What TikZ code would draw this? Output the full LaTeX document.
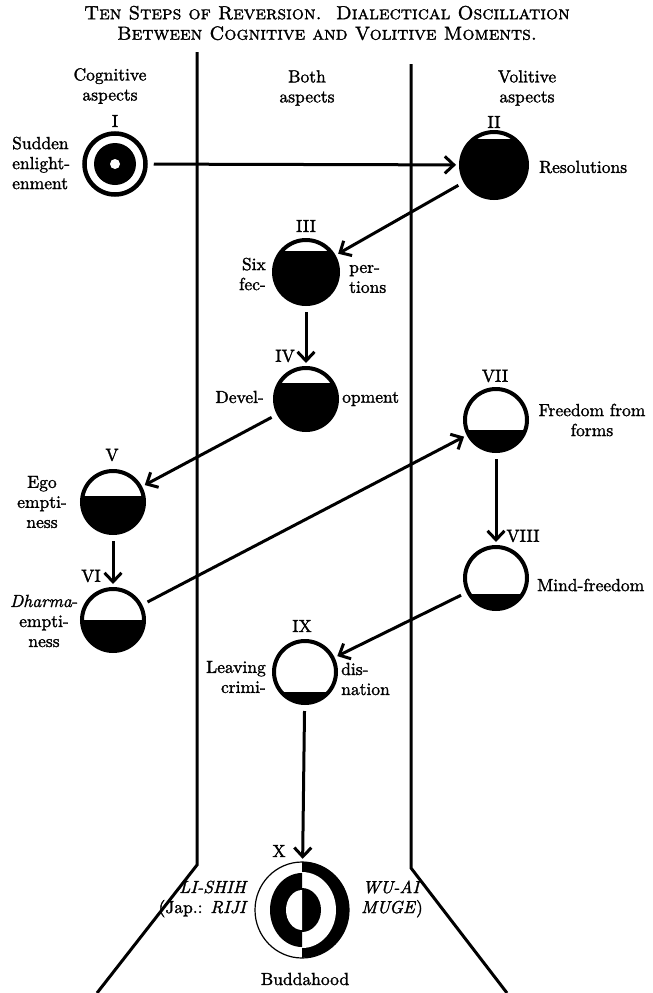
\documentclass[tikz,border=0pt]{standalone}
\usepackage{fontspec}
\newfontfamily\heavy{lmroman10-regular.otf}[ItalicFont=lmroman10-italic.otf,FakeBold=1.5]
\newfontfamily\heavycaps{lmromancaps10-regular.otf}[FakeBold=1.5]
\usetikzlibrary{arrows.meta,shapes.geometric}

\tikzset{
  stage/.style={circle,draw,line width=4pt,minimum size=62pt,inner sep=0pt},
  % black below a chord lying #1 above the centre
  water/.style={stage,path picture={
      \fill ([xshift=-40pt,yshift=#1]path picture bounding box.center)
        rectangle ++(80pt,-80pt);}},
  txt/.style={font=\heavy\fontsize{17.5}{20}\selectfont,inner sep=0pt},
  arrow/.style={->,line width=3pt,shorten <=6pt,shorten >=3pt},
}

\begin{document}
\begin{tikzpicture}[x=1pt,y=-1pt,>={Straight Barb[length=9pt,width=17pt]}]
        \useasboundingbox (0,0) rectangle (653,993) ;
        \node[txt,font=\heavycaps\fontsize{19}{20.5}\selectfont,align=center] (title) at (327,23)
          {Ten Steps of Reversion.\ \ Dialectical Oscillation\\Between Cognitive and Volitive Moments.} ;
        % the three columns
        \draw[line width=3pt] (197,52) -- (197,865) -- (97,993) ;
        \draw[line width=3pt] (411,64) -- (411,868) -- (507,993) ;
        \node[txt,align=center] (cog) at (110,86) {Cognitive\\aspects} ;
        \node[txt,align=center] (both) at (307,88) {Both\\aspects} ;
        \node[txt,align=center] (vol) at (527,88) {Volitive\\aspects} ;
        % the steps
        \node[stage,line width=4.5pt,minimum size=61pt,path picture={
            \fill (path picture bounding box.center) circle (21pt) ;
            \fill[white] (path picture bounding box.center) circle (5pt) ;}]
          (I) at (115,164) {} ;
        \node[water=26,minimum size=66pt] (II) at (494,165) {} ;
        \node[water=21,minimum size=64pt] (III) at (306,272) {} ;
        \node[water=16] (IV) at (306,399) {} ;
        \node[water=6] (V) at (113,502) {} ;
        \node[water=0] (VI) at (113,620) {} ;
        \node[water=-10] (VII) at (496,420) {} ;
        \node[water=-16] (VIII) at (496,578) {} ;
        \node[water=-20] (IX) at (305,672) {} ;
        \node[ellipse,minimum width=94pt,minimum height=96pt,inner sep=0pt] (X) at (302,910) {} ;
        % right half: black, white, black
        \fill (X.north) arc[start angle=90,end angle=-90,x radius=47pt,y radius=48pt] -- cycle ;
        \fill[white] ([yshift=38pt]X.center) arc[start angle=90,end angle=-90,x radius=34pt,y radius=38pt] -- cycle ;
        \fill ([yshift=22pt]X.center) arc[start angle=90,end angle=-90,x radius=19pt,y radius=22pt] -- cycle ;
        % left half: white, black, white
        \fill ([yshift=37pt]X.center) arc[start angle=90,end angle=270,x radius=32pt,y radius=37pt] -- cycle ;
        \fill[white] ([yshift=20pt]X.center) arc[start angle=90,end angle=270,x radius=16pt,y radius=20pt] -- cycle ;
        \draw[line width=1.2pt] (X.center) ellipse [x radius=47pt,y radius=48pt] ;
        % numerals
        \node[txt] (nI) at (115,121) {I} ;
        \node[txt] (nII) at (494,122) {II} ;
        \node[txt] (nIII) at (306,226) {III} ;
        \node[txt] (nIV) at (285,356) {IV} ;
        \node[txt] (nV) at (112,455) {V} ;
        \node[txt] (nVI) at (91,576) {VI} ;
        \node[txt] (nVII) at (495,376) {VII} ;
        \node[txt] (nVIII) at (523,536) {VIII} ;
        \node[txt] (nIX) at (302,626) {IX} ;
        \node[txt] (nX) at (279,851) {X} ;
        % names of the steps
        \node[txt,anchor=west,align=left] (sudden) at (12,163) {Sudden\\enlight-\\enment} ;
        \node[txt,anchor=west] (resol) at (539,167) {Resolutions} ;
        \node[txt,anchor=east,align=right] (six) at (266,274) {Six\\fec-} ;
        \node[txt,anchor=west,align=left] (perf) at (349,279) {per-\\tions} ;
        \node[txt,anchor=east] (devel) at (264,397) {Devel-} ;
        \node[txt,anchor=west] (opm) at (342,399) {opment} ;
        \node[txt,align=center] (ego) at (42,502) {Ego\\empti-\\ness} ;
        \node[txt,align=center] (dharma) at (44,621) {\textit{Dharma}-\\empti-\\ness} ;
        \node[txt,align=center] (forms) at (592,420) {Freedom from\\forms} ;
        \node[txt,anchor=west] (mind) at (537,585) {Mind-freedom} ;
        \node[txt,anchor=east,align=right] (leave) at (266,677) {Leaving\\crimi-} ;
        \node[txt,anchor=west,align=left] (disc) at (341,679) {dis-\\nation} ;
        \node[txt,anchor=east,align=right] (lishih) at (248,899) {\textit{LI-SHIH}\\(Jap.: \textit{RIJI}} ;
        \node[txt,align=center] (wuai) at (392,899) {\textit{WU-AI}\\\textit{MUGE})} ;
        \node[txt] (buddha) at (305,979) {Buddahood} ;
        % oscillation
        \draw[arrow] (I) -- (II) ;
        \draw[arrow] (II) -- (III) ;
        \draw[arrow] (III) -- (IV) ;
        \draw[arrow] (IV) -- (V) ;
        \draw[arrow] (V) -- (VI) ;
        \draw[arrow] (VI) -- (VII) ;
        \draw[arrow] (VII) -- (VIII) ;
        \draw[arrow] (VIII) -- (IX) ;
        \draw[arrow] (IX) -- (X) ;
\end{tikzpicture}
\end{document}
